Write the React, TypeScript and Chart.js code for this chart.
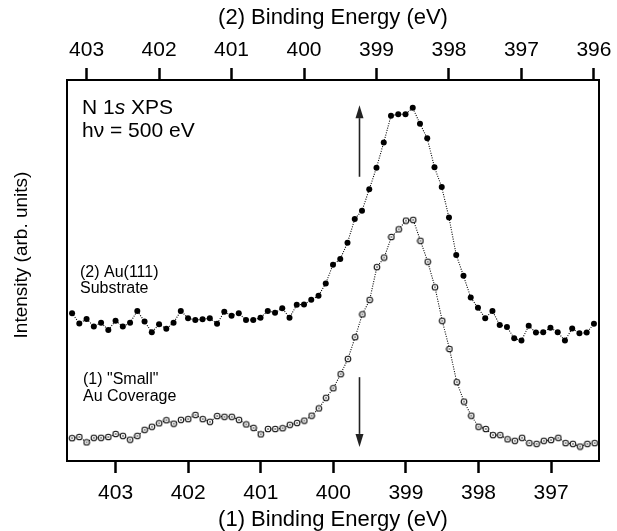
import React, { useEffect, useRef } from "react";
import { Chart, registerables } from "chart.js";

Chart.register(...registerables);

const FONT = '"Liberation Sans", Arial, Helvetica, sans-serif';

// (1) "Small" Au coverage — plotted against the bottom axis (1)
const energy1 = [
  403.6, 403.5, 403.4, 403.3, 403.2, 403.1, 403.0, 402.9, 402.8, 402.7,
  402.6, 402.5, 402.4, 402.3, 402.2, 402.1, 402.0, 401.9, 401.8, 401.7,
  401.6, 401.5, 401.4, 401.3, 401.2, 401.1, 401.0, 400.9, 400.8, 400.7,
  400.6, 400.5, 400.4, 400.3, 400.2, 400.1, 400.0, 399.9, 399.8, 399.7,
  399.6, 399.5, 399.4, 399.3, 399.2, 399.1, 399.0, 398.9, 398.8, 398.7,
  398.6, 398.5, 398.4, 398.3, 398.2, 398.1, 398.0, 397.9, 397.8, 397.7,
  397.6, 397.5, 397.4, 397.3, 397.2, 397.1, 397.0, 396.9, 396.8, 396.7,
  396.6, 396.5, 396.4,
];
const intensity1 = [
  6.0, 6.3, 4.9, 6.1, 6.1, 6.3, 7.1, 6.6, 5.6, 6.6,
  8.2, 9.0, 9.9, 10.7, 9.8, 10.8, 11.0, 12.1, 11.0, 10.3,
  11.8, 11.6, 11.6, 10.8, 9.6, 8.7, 7.0, 8.4, 8.4, 8.6,
  9.5, 10.0, 10.6, 11.9, 13.8, 16.6, 19.1, 22.8, 26.8, 32.5,
  38.5, 42.3, 50.9, 53.4, 58.8, 60.8, 63.1, 63.3, 57.8, 52.3,
  45.6, 36.8, 29.4, 20.7, 15.6, 11.9, 9.0, 8.4, 6.8, 6.8,
  5.7, 5.3, 6.1, 4.7, 4.5, 5.3, 5.5, 6.1, 4.7, 4.5,
  3.8, 4.5, 4.7,
];

// (2) Au(111) substrate — plotted against the top axis (2)
const energy2 = [
  403.2, 403.1, 403.0, 402.9, 402.8, 402.7, 402.6, 402.5, 402.4, 402.3,
  402.2, 402.1, 402.0, 401.9, 401.8, 401.7, 401.6, 401.5, 401.4, 401.3,
  401.2, 401.1, 401.0, 400.9, 400.8, 400.7, 400.6, 400.5, 400.4, 400.3,
  400.2, 400.1, 400.0, 399.9, 399.8, 399.7, 399.6, 399.5, 399.4, 399.3,
  399.2, 399.1, 399.0, 398.9, 398.8, 398.7, 398.6, 398.5, 398.4, 398.3,
  398.2, 398.1, 398.0, 397.9, 397.8, 397.7, 397.6, 397.5, 397.4, 397.3,
  397.2, 397.1, 397.0, 396.9, 396.8, 396.7, 396.6, 396.5, 396.4, 396.3,
  396.2, 396.1, 396.0,
];
const intensity2 = [
  38.8, 36.1, 37.3, 35.3, 36.3, 34.4, 36.8, 35.3, 36.3, 39.4,
  36.6, 33.8, 35.9, 34.7, 36.3, 39.4, 37.5, 37.0, 37.2, 37.5,
  36.0, 39.2, 38.1, 38.8, 37.0, 37.0, 37.6, 39.4, 38.9, 40.1,
  37.6, 41.0, 41.1, 42.3, 43.4, 46.6, 51.5, 53.0, 57.3, 63.5,
  65.7, 71.3, 77.0, 83.6, 90.6, 91.0, 91.0, 92.7, 88.5, 84.7,
  77.1, 71.9, 63.9, 54.1, 48.6, 42.9, 40.2, 37.5, 39.4, 35.7,
  35.2, 32.2, 31.6, 35.5, 33.7, 33.8, 35.0, 33.8, 31.6, 34.8,
  33.5, 33.7, 36.0,
];

// axis ranges (min, max)
const bottomAxisRange = [396.34, 403.67];
const topAxisRange = [395.93, 403.27];
const intensityRange = [0, 100];

// arrows: [energy on axis (1), intensity from, intensity to]
const arrowUp = [399.64, 74.6, 93.4];
const arrowDown = [399.64, 22.0, 3.7];

function makeOpenMarker(): HTMLCanvasElement {
  const c = document.createElement("canvas");
  c.width = 8;
  c.height = 8;
  const g = c.getContext("2d")!;
  g.beginPath();
  g.arc(4, 4, 2.8, 0, Math.PI * 2);
  g.fillStyle = "#fff";
  g.fill();
  g.lineWidth = 1.1;
  g.strokeStyle = "#111";
  g.stroke();
  g.beginPath();
  g.arc(4, 4, 0.8, 0, Math.PI * 2);
  g.fillStyle = "#111";
  g.fill();
  return c;
}

function drawArrow(ctx: CanvasRenderingContext2D, x: number, yFrom: number, yTo: number) {
  const dir = Math.sign(yTo - yFrom);
  const headLen = 13;
  const half = 4;
  ctx.strokeStyle = "#222";
  ctx.fillStyle = "#222";
  ctx.lineWidth = 1.6;
  ctx.beginPath();
  ctx.moveTo(x, yFrom);
  ctx.lineTo(x, yTo - dir * headLen);
  ctx.stroke();
  ctx.beginPath();
  ctx.moveTo(x, yTo);
  ctx.lineTo(x - half, yTo - dir * headLen);
  ctx.lineTo(x + half, yTo - dir * headLen);
  ctx.closePath();
  ctx.fill();
}

const annotationPlugin = {
  id: "annotations",
  afterDraw(chart: any) {
    const ctx: CanvasRenderingContext2D = chart.ctx;
    const xs = chart.scales.x;
    const ys = chart.scales.y;
    ctx.save();
    ctx.fillStyle = "#000";
    ctx.textBaseline = "middle";
    ctx.textAlign = "left";

    // N 1s XPS
    let x = 82;
    const yA = 108;
    ctx.font = `21px ${FONT}`;
    ctx.fillText("N 1", x, yA);
    x += ctx.measureText("N 1").width;
    ctx.font = `italic 21px ${FONT}`;
    ctx.fillText("s", x, yA);
    x += ctx.measureText("s").width;
    ctx.font = `21px ${FONT}`;
    ctx.fillText(" XPS", x, yA);
    ctx.fillText("h\u03BD = 500 eV", 82, 131.5);

    ctx.font = `16px ${FONT}`;
    ctx.fillText("(2) Au(111)", 80, 273);
    ctx.fillText("Substrate", 80, 289);
    ctx.fillText('(1) "Small"', 83, 380);
    ctx.fillText("Au Coverage", 83, 396.5);

    // y-axis title
    ctx.save();
    ctx.translate(21.7, 255);
    ctx.rotate(-Math.PI / 2);
    ctx.textAlign = "center";
    ctx.font = `19px ${FONT}`;
    ctx.fillText("Intensity (arb. units)", 0, 0);
    ctx.restore();

    // arrows
    drawArrow(ctx, xs.getPixelForValue(arrowUp[0]), ys.getPixelForValue(arrowUp[1]), ys.getPixelForValue(arrowUp[2]));
    drawArrow(ctx, xs.getPixelForValue(arrowDown[0]), ys.getPixelForValue(arrowDown[1]), ys.getPixelForValue(arrowDown[2]));
    ctx.restore();
  },
};

export default function App() {
  const canvasRef = useRef<HTMLCanvasElement | null>(null);

  useEffect(() => {
    if (!canvasRef.current) return;
    const openMarker = makeOpenMarker();

    const tickFont = { family: FONT, size: 21 };
    const gridOpts = {
      display: true,
      drawOnChartArea: false,
      drawTicks: true,
      tickLength: 12,
      tickWidth: 2.5,
      tickColor: "#000",
    };
    const borderOpts = { display: true, color: "#000", width: 2 };

    const chart = new Chart(canvasRef.current, {
      type: "line",
      data: {
        datasets: [
          {
            label: '(1) "Small" Au Coverage',
            data: energy1.map((e, i) => ({ x: e, y: intensity1[i] })),
            xAxisID: "x",
            yAxisID: "y",
            borderColor: "#000",
            borderWidth: 1.1,
            borderDash: [1, 1.4],
            pointStyle: openMarker as any,
            pointRadius: 3,
            fill: false,
            tension: 0,
          },
          {
            label: "(2) Au(111) Substrate",
            data: energy2.map((e, i) => ({ x: e, y: intensity2[i] })),
            xAxisID: "x2",
            yAxisID: "y",
            borderColor: "#000",
            borderWidth: 1.1,
            borderDash: [1, 1.4],
            pointStyle: "circle",
            pointRadius: 3,
            pointBackgroundColor: "#000",
            pointBorderWidth: 0,
            fill: false,
            tension: 0,
          },
        ],
      },
      options: {
        animation: false,
        responsive: true,
        maintainAspectRatio: false,
        events: [],
        layout: { padding: 0 },
        plugins: {
          legend: { display: false },
          tooltip: { enabled: false },
        },
        scales: {
          x: {
            type: "linear",
            position: "bottom",
            reverse: true,
            min: bottomAxisRange[0],
            max: bottomAxisRange[1],
            ticks: {
              stepSize: 1,
              includeBounds: false,
              color: "#000",
              font: tickFont,
              padding: 7.7,
              maxRotation: 0,
              autoSkip: false,
            },
            grid: gridOpts,
            border: borderOpts,
            title: {
              display: true,
              text: "(1) Binding Energy (eV)",
              color: "#000",
              font: { family: FONT, size: 22, lineHeight: 1 },
              padding: { top: 0, bottom: 0 },
            },
            afterFit: (s: any) => {
              s.height = 70;
            },
          },
          x2: {
            type: "linear",
            position: "top",
            reverse: true,
            min: topAxisRange[0],
            max: topAxisRange[1],
            ticks: {
              stepSize: 1,
              includeBounds: false,
              color: "#000",
              font: tickFont,
              padding: 5.4,
              maxRotation: 0,
              autoSkip: false,
            },
            grid: gridOpts,
            border: borderOpts,
            title: {
              display: true,
              text: "(2) Binding Energy (eV)",
              color: "#000",
              font: { family: FONT, size: 22, lineHeight: 1 },
              padding: { top: 7, bottom: 0 },
            },
            afterFit: (s: any) => {
              s.height = 80;
            },
          },
          y: {
            type: "linear",
            position: "left",
            min: intensityRange[0],
            max: intensityRange[1],
            ticks: { display: false },
            grid: { display: false },
            border: borderOpts,
            afterFit: (s: any) => {
              s.width = 67;
            },
          },
          y2: {
            type: "linear",
            position: "right",
            min: intensityRange[0],
            max: intensityRange[1],
            ticks: { display: false },
            grid: { display: false },
            border: borderOpts,
            afterFit: (s: any) => {
              s.width = 15;
            },
          },
        },
      } as any,
      plugins: [annotationPlugin],
    });

    return () => chart.destroy();
  }, []);

  return (
    <div style={{ position: "fixed", left: 0, top: 0, width: 617, height: 531, background: "#fff" }}>
      <canvas ref={canvasRef} />
    </div>
  );
}
